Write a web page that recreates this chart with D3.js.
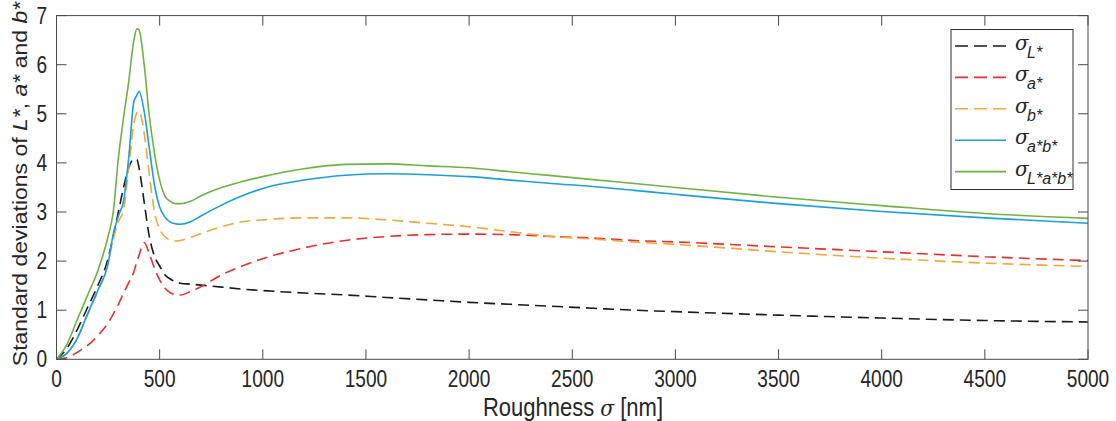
<!DOCTYPE html>
<html>
<head>
<meta charset="utf-8">
<script src="https://cdn.jsdelivr.net/npm/d3@7/dist/d3.min.js"></script>
<style>
  html, body { margin: 0; padding: 0; background: #fff; }
  svg { display: block; font-family: "Liberation Sans", Arial, sans-serif; }
</style>
</head>
<body>
<svg id="chart" width="1116" height="421"></svg>
<script>
// roughness sigma [nm], shared by all series
const roughness = [0, 50, 100, 150, 200, 250, 275, 300, 325, 350, 375, 390, 400, 425, 450, 475, 500, 525, 550, 575, 600, 650, 700, 800, 900, 1000, 1200, 1400, 1600, 1800, 2000, 2200, 2400, 2600, 2800, 3000, 3500, 4000, 4500, 5000];

const sigmaL = [0, 0.22, 0.6, 1.05, 1.5, 2.05, 2.5, 3.0, 3.5, 3.9, 4.08, 4.07, 3.9, 3.2, 2.5, 2.1, 1.9, 1.72, 1.64, 1.58, 1.55, 1.53, 1.51, 1.47, 1.43, 1.4, 1.35, 1.31, 1.26, 1.21, 1.16, 1.12, 1.08, 1.04, 1.0, 0.97, 0.9, 0.84, 0.79, 0.76];
const sigmaA = [0, 0.03, 0.14, 0.28, 0.48, 0.74, 0.92, 1.12, 1.35, 1.56, 1.78, 2.0, 2.12, 2.38, 2.15, 1.85, 1.62, 1.45, 1.36, 1.32, 1.31, 1.38, 1.48, 1.72, 1.9, 2.05, 2.27, 2.42, 2.5, 2.54, 2.55, 2.54, 2.5, 2.47, 2.42, 2.39, 2.29, 2.19, 2.09, 2.01];
const sigmaB = [0, 0.12, 0.42, 0.9, 1.38, 1.95, 2.45, 2.8, 3.05, 3.9, 4.8, 5.02, 5.05, 4.6, 3.75, 3.0, 2.65, 2.5, 2.43, 2.41, 2.42, 2.48, 2.56, 2.7, 2.8, 2.84, 2.88, 2.88, 2.84, 2.77, 2.7, 2.6, 2.5, 2.45, 2.39, 2.34, 2.19, 2.06, 1.96, 1.89];
const sigmaAB = [0, 0.12, 0.42, 0.92, 1.4, 1.95, 2.55, 2.92, 3.22, 4.1, 5.25, 5.38, 5.46, 5.05, 4.3, 3.55, 3.1, 2.9, 2.8, 2.76, 2.75, 2.8, 2.92, 3.14, 3.33, 3.48, 3.65, 3.75, 3.78, 3.76, 3.72, 3.65, 3.58, 3.52, 3.44, 3.36, 3.17, 3.01, 2.88, 2.77];
const sigmaLAB = [0, 0.3, 0.8, 1.3, 1.8, 2.5, 3.0, 4.1, 4.92, 5.65, 6.5, 6.73, 6.71, 6.0, 4.95, 4.2, 3.65, 3.33, 3.22, 3.17, 3.17, 3.22, 3.33, 3.5, 3.62, 3.72, 3.88, 3.97, 3.98, 3.94, 3.9, 3.82, 3.74, 3.66, 3.58, 3.5, 3.3, 3.13, 2.97, 2.87];

const xTicks = [0, 500, 1000, 1500, 2000, 2500, 3000, 3500, 4000, 4500, 5000];
const yTicks = [0, 1, 2, 3, 4, 5, 6, 7];

const series = [
  { sub: 'L*', values: sigmaL, color: '#1a1a1a', dash: '11,6' },
  { sub: 'a*', values: sigmaA, color: '#ec2d2d', dash: '11,6' },
  { sub: 'b*', values: sigmaB, color: '#f2a83a', dash: '11,6' },
  { sub: 'a*b*', values: sigmaAB, color: '#1a9fe0', dash: null },
  { sub: 'L*a*b*', values: sigmaLAB, color: '#6db344', dash: null },
];

const FS = 23;
const AXIS = '#4a4a4a';
const TXT = '#262626';

const plotLeft = 56.5, plotRight = 1088, plotTop = 15.6, plotBottom = 359.3;
const svg = d3.select('#chart');

const x = d3.scaleLinear().domain([0, 5000]).range([plotLeft, plotRight]);
const y = d3.scaleLinear().domain([0, 7]).range([plotBottom, plotTop]);

// text in the original is narrower than Arial, so squeeze it horizontally
function narrowText(parent, px, py, anchor, size, sx) {
  return parent.append('g')
    .attr('transform', `translate(${px},${py}) scale(${sx},1)`)
    .append('text')
    .attr('text-anchor', anchor)
    .attr('fill', TXT)
    .style('font-size', `${size}px`);
}

// series
const line = d3.line()
  .x((d, i) => x(roughness[i]))
  .y(d => y(d))
  .curve(d3.curveMonotoneX);

const plot = svg.append('g');
series.forEach(s => {
  plot.append('path')
    .datum(s.values)
    .attr('d', line)
    .attr('fill', 'none')
    .attr('stroke', s.color)
    .attr('stroke-width', 1.6)
    .attr('stroke-dasharray', s.dash);
});

// box and ticks (inward, all four sides)
const frame = svg.append('g').attr('stroke', AXIS).attr('stroke-width', 1).attr('fill', 'none');
frame.append('rect')
  .attr('x', plotLeft).attr('y', plotTop)
  .attr('width', plotRight - plotLeft).attr('height', plotBottom - plotTop);
const tickLen = 10;
xTicks.forEach(t => {
  frame.append('line').attr('x1', x(t)).attr('x2', x(t)).attr('y1', plotBottom).attr('y2', plotBottom - tickLen);
  frame.append('line').attr('x1', x(t)).attr('x2', x(t)).attr('y1', plotTop).attr('y2', plotTop + tickLen);
});
yTicks.forEach(t => {
  frame.append('line').attr('y1', y(t)).attr('y2', y(t)).attr('x1', plotLeft).attr('x2', plotLeft + tickLen);
  frame.append('line').attr('y1', y(t)).attr('y2', y(t)).attr('x1', plotRight).attr('x2', plotRight - tickLen);
});

// tick labels
xTicks.forEach(t => {
  narrowText(svg, x(t), 387, 'middle', FS, 0.83).text(t);
});
yTicks.forEach(t => {
  narrowText(svg, 47, y(t) + 8, 'end', FS, 0.83).text(t);
});

// x label
const xl = narrowText(svg, 573, 416, 'middle', 25, 0.88);
xl.append('tspan').text('Roughness  ');
xl.append('tspan').style('font-style', 'italic').style('font-family', '"DejaVu Serif", serif').style('font-size', '23px').text('σ');
xl.append('tspan').text(' [nm]');

// y label
const yl = svg.append('g')
  .attr('transform', 'translate(27,184) rotate(-90) scale(1,0.88)')
  .append('text')
  .attr('text-anchor', 'middle')
  .attr('fill', TXT)
  .style('font-size', `${FS}px`);
yl.append('tspan').text('Standard deviations of ');
yl.append('tspan').style('font-style', 'italic').text('L*');
yl.append('tspan').text(', ');
yl.append('tspan').style('font-style', 'italic').text('a*');
yl.append('tspan').text(' and ');
yl.append('tspan').style('font-style', 'italic').text('b*');

// legend
const legend = svg.append('g');
legend.append('rect')
  .attr('x', 951).attr('y', 29.5).attr('width', 122).attr('height', 160)
  .attr('fill', '#fff').attr('stroke', '#333').attr('stroke-width', 1);
series.forEach((s, i) => {
  const cy = 46 + i * 31.4;
  legend.append('line')
    .attr('x1', 955).attr('x2', 1006).attr('y1', cy).attr('y2', cy)
    .attr('stroke', s.color).attr('stroke-width', 1.6)
    .attr('stroke-dasharray', s.dash ? '13,6' : null);
  const g = legend.append('g').attr('transform', `translate(1015,${cy + 4})`);
  g.append('text')
    .attr('fill', TXT)
    .style('font-family', '"DejaVu Serif", serif')
    .style('font-style', 'italic')
    .style('font-size', '20px')
    .text('σ');
  g.append('text')
    .attr('x', 12).attr('y', 8)
    .attr('fill', TXT)
    .style('font-style', 'italic')
    .style('font-size', '16px')
    .text(s.sub);
});
</script>
</body>
</html>
